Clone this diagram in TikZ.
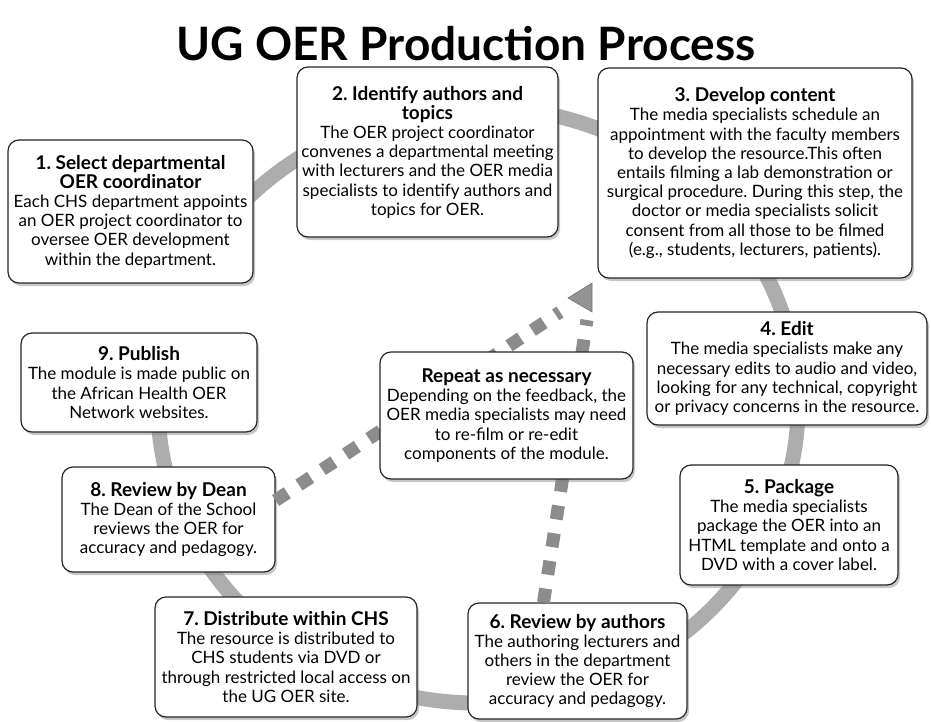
\documentclass[tikz,border=0pt]{standalone}
\usepackage{fontspec}
\setmainfont{Lato}
\usetikzlibrary{shadows,calc}
\newcommand{\stagehead}[1]{{\fontsize{19}{20}\selectfont\bfseries #1}}
\frenchspacing

\begin{document}
\begin{tikzpicture}[x=1pt, y=1pt,
                    stage/.style={draw=black!85, line width=1.2pt, fill=white,
                      rounded corners=11pt, align=center, inner sep=2pt,
                      font=\fontsize{17}{19.2}\selectfont,
                      drop shadow={shadow xshift=2pt, shadow yshift=-3pt, opacity=.45}},
                    ring/.style={line width=15pt, draw=black!32},
                    loopline/.style={line width=13pt, draw=black!45,
                      dash pattern=on 14pt off 14pt}]
    \useasboundingbox (0,0) rectangle (931,-722);

    % the cycle
    \draw[ring] (478,-405) ++(155:320 and 298)
        arc[start angle=155, end angle=-193, x radius=320, y radius=298];

    \node[font=\fontsize{46}{52}\selectfont\bfseries] (title) at (466,-44)
        {UG OER Production Process};

    \coordinate (dtop) at (560,-312);
    \coordinate (vtop) at (587,-320);

    \node[stage, minimum width=245, minimum height=143] (1) at (130.5,-211.5)
        {\stagehead{1. Select departmental}\\\stagehead{OER coordinator}\\Each CHS department appoints\\an OER project coordinator to\\oversee OER development\\within the department.};
    \node[stage, minimum width=261, minimum height=170] (2) at (427.5,-152)
        {\stagehead{2. Identify authors and}\\\stagehead{topics}\\The OER project coordinator\\convenes a departmental meeting\\with lecturers and the OER media\\specialists to identify authors and\\topics for OER.};
    \node[stage, minimum width=314, minimum height=210] (3) at (755,-173)
        {\stagehead{3. Develop content}\\The media specialists schedule an\\appointment with the faculty members\\to develop the resource.This often\\entails filming a lab demonstration or\\surgical procedure. During this step, the\\doctor or media specialists solicit\\consent from all those to be filmed\\(e.g., students, lecturers, patients).};
    \node[stage, minimum width=280, minimum height=113] (4) at (787,-368.5)
        {\stagehead{4. Edit}\\The media specialists make any\\necessary edits to audio and video,\\looking for any technical, copyright\\or privacy concerns in the resource.};
    \node[stage, minimum width=218, minimum height=120] (5) at (789,-525)
        {\stagehead{5. Package}\\The media specialists\\package the OER into an\\HTML template and onto a\\DVD with a cover label.};
    \node[stage, minimum width=219, minimum height=116] (6) at (577.5,-661)
        {\stagehead{6. Review by authors}\\The authoring lecturers and\\others in the department\\review the OER for\\accuracy and pedagogy.};
    \node[stage, minimum width=262, minimum height=120] (7) at (286,-657)
        {\stagehead{7. Distribute within CHS}\\The resource is distributed to\\CHS students via DVD or\\through restricted local access on\\the UG OER site.};
    \node[stage, minimum width=213, minimum height=105] (8) at (168.5,-519.5)
        {\stagehead{8. Review by Dean}\\The Dean of the School\\reviews the OER for\\accuracy and pedagogy.};
    \node[stage, minimum width=236, minimum height=99] (9) at (139,-382.5)
        {\stagehead{9. Publish}\\The module is made public on\\the African Health OER\\Network websites.};

    % repeat loop, behind its box
    \draw[loopline] ([yshift=19]8.east) -- (dtop);
    \draw[loopline] ([xshift=-34]6.north) -- (vtop);
    \fill[black!42, draw=black!55, line width=.6pt] (592,-283) -- (568,-298) -- (592,-312) -- cycle;

    \node[stage, minimum width=253, minimum height=127] (r) at (506.5,-415.5)
        {\stagehead{Repeat as necessary}\\Depending on the feedback, the\\OER media specialists may need\\to re-film or re-edit\\components of the module.};
\end{tikzpicture}
\end{document}
